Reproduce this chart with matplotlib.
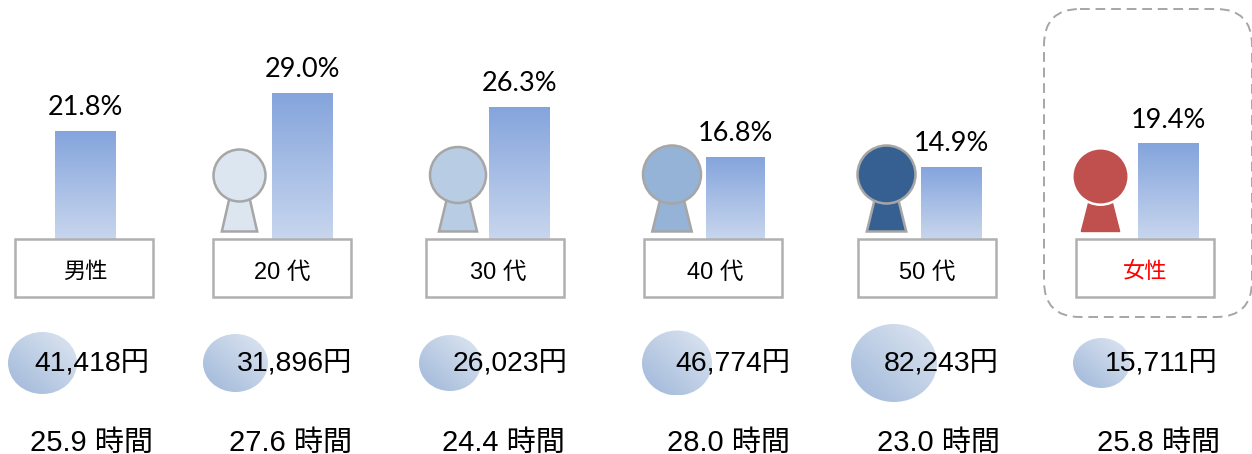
import matplotlib
matplotlib.use('Agg')
import matplotlib.pyplot as plt
import numpy as np
from matplotlib.colors import LinearSegmentedColormap
from matplotlib.patches import Rectangle, Ellipse, Polygon, FancyBboxPatch

W, H = 1252, 454

# data
groups = ['男性', '20 代', '30 代', '40 代', '50 代', '女性']
share = [21.8, 29.0, 26.3, 16.8, 14.9, 19.4]
yen = ['41,418円', '31,896円', '26,023円', '46,774円', '82,243円', '15,711円']
hours = ['25.9 時間', '27.6 時間', '24.4 時間', '28.0 時間', '23.0 時間', '25.8 時間']

# layout, all in reference pixels
bar_x = [85.5, 302.5, 519.5, 735.5, 951.5, 1168.5]
bar_w = [61, 61, 61, 59, 61, 61]
box_x = [15, 213, 426, 644, 858, 1076]
label_x = [85, 282, 498, 715, 927, 1145]
label_size = [16, 17, 17, 17, 17, 16]
yen_x = [92, 294.5, 510.5, 732.5, 941, 1161]
hour_x = [91.5, 290.5, 503.5, 728.5, 938.5, 1158.5]
bubble_x = [42.5, 235.5, 450, 677, 894, 1101.5]
bubble_w = [69, 65, 62, 70, 86, 57]
bubble_h = [62, 58, 56, 65, 78, 50]
head_x = [239.5, 458, 672, 886.5, 1100.5]
head_y = [175.5, 175, 174.5, 174.5, 176.5]
head_r = [26, 28, 29, 29, 28.2]
person_col = ['#DCE6F1', '#B8CCE4', '#95B3D7', '#366092', '#C0504D']
person_edge = ['#A6A6A6', '#A6A6A6', '#A6A6A6', '#A6A6A6', '#FFFFFF']

base_y = 239
px_per_pct = 5.25
pct_floor = 1.14  # the bars' zero sits hidden behind the boxes
JP = ['Liberation Sans', 'Noto Sans CJK JP']

bar_cmap = LinearSegmentedColormap.from_list('bar', ['#84A4DC', '#C8D6EE'])
ball_cmap = LinearSegmentedColormap.from_list('ball', ['#DFE7F2', '#9FB7D9'])

fig = plt.figure(figsize=(W / 100, H / 100), dpi=100)

# bars get their own axes so the height comes from the percent scale
ax_bar = fig.add_axes([0, 1 - base_y / H, 1, base_y / H])
ax_bar.axis('off')
bars = ax_bar.bar(bar_x, share, width=bar_w, color='none')
grad = np.linspace(0, 1, 256).reshape(-1, 1)
for b, v in zip(bars, share):
    im = ax_bar.imshow(grad, cmap=bar_cmap, aspect='auto', origin='upper',
                       extent=[b.get_x(), b.get_x() + b.get_width(), pct_floor, v])
    im.set_clip_path(b)
    ax_bar.annotate('%.1f%%' % v, (b.get_x() + b.get_width() / 2, v),
                    xytext=(0, 16.5), textcoords='offset points', ha='center',
                    va='center', fontsize=19.5, family='Lato', color='black')
ax_bar.set_xlim(0, W)
ax_bar.set_ylim(pct_floor, pct_floor + base_y / px_per_pct)

# everything else is drawn on a pixel canvas over the top
ax = fig.add_axes([0, 0, 1, 1], facecolor='none')
ax.axis('off')

for i in range(6):
    ax.add_patch(Rectangle((box_x[i], base_y), 138, 58, fc='white', ec='#B0B0B0', lw=1.8))
    ax.text(label_x[i], 272.5, groups[i], ha='center', va='center', fontsize=label_size[i],
            family=JP, color='red' if i == 5 else 'black')

    e = Ellipse((bubble_x[i], 363), bubble_w[i], bubble_h[i], fc='none', ec='none')
    ax.add_patch(e)
    xx, yy = np.meshgrid(np.linspace(0, 1, 128), np.linspace(0, 1, 128))
    im = ax.imshow((1 - xx + yy) / 2, cmap=ball_cmap, aspect='auto', origin='upper',
                   extent=[bubble_x[i] - bubble_w[i] / 2, bubble_x[i] + bubble_w[i] / 2,
                           363 + bubble_h[i] / 2, 363 - bubble_h[i] / 2], zorder=2)
    im.set_clip_path(e)

    ax.text(yen_x[i], 363, yen[i], ha='center', va='center', fontsize=20.4, family=JP, zorder=3)
    ax.text(hour_x[i], 442.5, hours[i], ha='center', va='center', fontsize=21, family=JP, zorder=3)

# little people, the body sits behind the head
for x, y, r, col, edge in zip(head_x, head_y, head_r, person_col, person_edge):
    top = r * 0.40
    bot = r * 0.68
    body_edge = col if edge == '#FFFFFF' else edge
    ax.add_patch(Polygon([(x - top, y + 24), (x + top, y + 24), (x + bot, 231.5), (x - bot, 231.5)],
                         closed=True, fc=col, ec=body_edge, lw=1.0 if edge == '#FFFFFF' else 1.8, zorder=3))
    ax.add_patch(Ellipse((x, y), 2 * r, 2 * r, fc=col, ec=edge, lw=1.8, zorder=4))

ax.add_patch(FancyBboxPatch((1044 + 36, 9 + 36), 208 - 72, 308 - 72,
                            boxstyle='round,pad=36,rounding_size=36', fc='none',
                            ec='#A6A6A6', lw=1.4, ls=(0, (5, 3)), clip_on=False))

ax.set_xlim(0, W)
ax.set_ylim(H, 0)

fig.savefig('out.png', dpi=100)
